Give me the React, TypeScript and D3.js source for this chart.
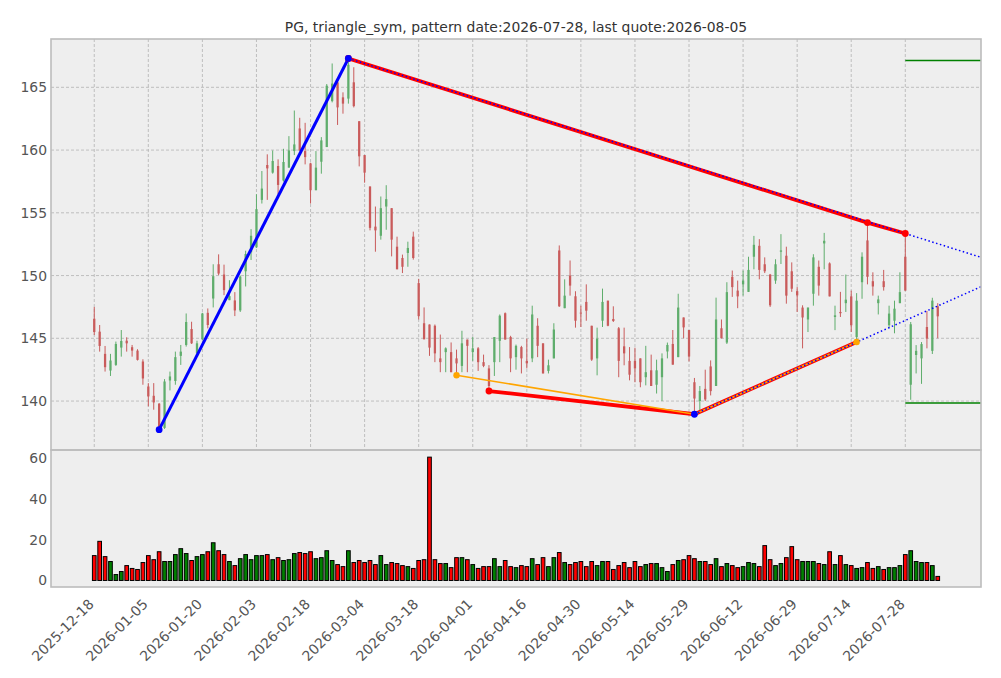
import * as d3 from 'd3';

// OHLC per trading day, index 0 = 2025-12-18 ... index 156 = 2026-08-05
const candles: [number, number, number, number][] = [
  [146.56, 147.5, 145.26, 145.5], [145.53, 146.06, 143.94, 144.39], [143.76, 144.39, 142.35, 142.7],
  [142.43, 143.76, 142.0, 143.23], [142.88, 144.74, 142.8, 144.55], [144.26, 145.66, 143.54, 144.79],
  [144.81, 145.08, 143.94, 144.6], [144.29, 144.47, 143.54, 144.02], [144.02, 144.13, 143.23, 143.28],
  [143.15, 143.33, 141.3, 141.8], [141.16, 141.43, 139.58, 140.37], [140.42, 141.43, 139.31, 139.89],
  [139.79, 139.84, 137.72, 137.86], [137.86, 141.75, 137.78, 141.56], [141.64, 142.35, 140.85, 141.96],
  [141.6, 143.94, 141.3, 143.5], [143.6, 144.47, 142.88, 143.94], [144.47, 146.98, 144.34, 146.3],
  [145.74, 146.32, 144.55, 144.6], [143.81, 144.81, 143.76, 144.6], [144.92, 147.03, 144.87, 146.98],
  [147.03, 147.38, 145.79, 146.06], [148.17, 150.9, 147.46, 149.95], [150.9, 151.69, 150.03, 150.16],
  [150.08, 150.87, 148.44, 148.84], [148.04, 149.63, 148.04, 148.36], [148.02, 148.68, 146.77, 147.22],
  [147.22, 150.0, 147.1, 149.92], [150.34, 151.98, 149.13, 151.72], [151.85, 153.7, 151.24, 153.17],
  [152.25, 156.48, 152.2, 155.29], [156.03, 158.33, 155.74, 156.93], [158.81, 159.66, 156.03, 158.54],
  [158.2, 159.97, 158.12, 159.13], [158.73, 159.26, 156.48, 157.22], [157.57, 160.1, 157.49, 159.05],
  [158.6, 161.11, 158.6, 159.97], [159.92, 163.15, 159.6, 160.45], [161.72, 162.57, 159.92, 159.97],
  [159.92, 162.17, 158.86, 159.44], [158.94, 158.99, 155.74, 156.8], [156.8, 159.92, 156.8, 158.6],
  [159.07, 161.03, 158.12, 160.77], [160.24, 165.26, 160.24, 165.13], [163.9, 166.9, 163.8, 165.3],
  [165.4, 165.5, 162.0, 163.4], [164.2, 164.6, 162.9, 163.7], [164.1, 167.3, 163.7, 166.8],
  [165.4, 166.6, 163.4, 163.5], [162.3, 162.3, 158.7, 159.5], [159.6, 159.6, 157.4, 158.2],
  [157.1, 157.1, 153.6, 153.8], [153.9, 155.5, 151.9, 153.6], [153.17, 156.3, 152.86, 155.37],
  [155.5, 157.2, 153.65, 156.09], [155.37, 155.37, 151.53, 152.86], [152.3, 153.1, 150.5, 150.5],
  [151.4, 151.67, 150.2, 150.7], [151.8, 152.7, 150.7, 152.2], [153.1, 153.5, 151.27, 151.4],
  [149.4, 149.74, 146.5, 146.77], [146.2, 147.46, 144.92, 144.92], [146.1, 146.1, 143.6, 144.26],
  [146.0, 146.1, 143.1, 143.8], [143.4, 145.3, 142.3, 143.1], [143.9, 144.28, 142.3, 144.2],
  [143.9, 144.67, 142.3, 142.3], [143.4, 144.1, 142.06, 143.0], [142.8, 145.6, 142.3, 144.6],
  [144.9, 144.9, 142.3, 144.4], [143.9, 145.1, 143.2, 144.2], [144.2, 144.3, 142.4, 143.1],
  [143.1, 143.7, 142.7, 142.8], [142.6, 142.86, 140.8, 141.2], [143.1, 145.1, 142.0, 145.1],
  [144.8, 146.9, 143.1, 146.8], [147.0, 147.06, 144.9, 144.9], [145.1, 145.2, 142.3, 143.4],
  [143.5, 144.5, 142.5, 144.4], [144.3, 144.4, 142.2, 143.4], [143.2, 144.97, 142.6, 143.0],
  [143.4, 147.6, 143.1, 146.9], [146.0, 146.6, 143.5, 144.4], [144.6, 144.6, 142.2, 142.2],
  [142.4, 143.3, 142.2, 142.85], [143.4, 146.2, 143.4, 145.7], [152.0, 152.4, 147.5, 147.55],
  [147.4, 149.7, 147.4, 148.4], [150.0, 151.2, 148.4, 149.2], [148.35, 148.75, 145.85, 146.4],
  [147.05, 147.6, 145.9, 146.98], [147.9, 149.3, 146.4, 147.2], [146.0, 146.0, 143.2, 143.3],
  [143.4, 145.85, 142.05, 144.97], [146.4, 148.96, 145.9, 147.9], [148.0, 148.0, 145.96, 146.0],
  [146.54, 147.55, 146.3, 146.38], [145.8, 145.9, 141.9, 143.2], [144.36, 145.85, 142.85, 143.8],
  [143.2, 144.3, 141.65, 142.1], [143.2, 144.25, 141.5, 142.6], [143.4, 143.4, 141.1, 141.5],
  [141.9, 144.4, 141.25, 142.3], [142.45, 143.7, 141.2, 141.2], [141.3, 143.3, 140.6, 142.45],
  [141.9, 143.8, 140.0, 143.4], [143.95, 144.66, 143.4, 144.47], [144.55, 145.66, 142.9, 142.9],
  [143.5, 148.55, 143.5, 147.45], [146.66, 146.66, 145.0, 145.87], [145.66, 145.66, 143.16, 143.55],
  [141.5, 141.84, 138.95, 140.2], [140.0, 141.2, 139.2, 140.8], [140.97, 142.5, 140.0, 140.13],
  [142.76, 143.24, 140.45, 140.79], [141.2, 148.24, 141.2, 146.5], [145.8, 146.5, 145.0, 145.0],
  [144.66, 149.47, 144.55, 148.68], [149.9, 150.4, 148.3, 149.08], [148.8, 149.6, 147.4, 148.34],
  [149.3, 150.4, 148.4, 149.6], [148.7, 151.5, 148.7, 150.45], [151.5, 153.16, 150.5, 152.45],
  [152.37, 152.9, 149.7, 150.45], [150.9, 151.45, 150.2, 150.34], [150.08, 150.13, 147.5, 147.63],
  [149.6, 151.3, 149.34, 150.9], [151.9, 153.3, 150.92, 152.0], [151.58, 152.3, 147.76, 148.4],
  [150.34, 151.05, 148.7, 148.95], [148.76, 149.08, 147.1, 148.42], [147.45, 147.63, 144.2, 146.66],
  [146.5, 147.45, 145.5, 147.45], [148.55, 151.7, 147.6, 151.45], [150.7, 151.2, 148.4, 149.2],
  [152.56, 153.4, 150.5, 152.77], [150.97, 151.05, 148.34, 148.34], [146.7, 147.6, 145.65, 146.83],
  [147.1, 148.7, 146.7, 147.0], [147.8, 150.08, 147.1, 148.08], [148.34, 148.8, 145.5, 146.04],
  [145.1, 148.6, 144.7, 148.0], [149.47, 151.85, 148.15, 151.5], [152.8, 154.22, 149.3, 149.9],
  [149.55, 150.26, 148.4, 149.13], [147.8, 148.4, 146.9, 148.1], [149.55, 150.45, 148.8, 149.08],
  [146.04, 147.6, 145.8, 146.97], [146.4, 148.0, 145.4, 147.36], [147.8, 150.26, 147.8, 148.68],
  [151.5, 153.35, 148.8, 148.8], [141.3, 146.3, 140.1, 146.12], [143.67, 144.46, 142.2, 144.0],
  [143.4, 144.7, 141.37, 144.54], [145.9, 147.18, 144.2, 144.98], [144.0, 148.23, 143.75, 148.0],
  [147.55, 147.8, 145.0, 146.75],
];

const volumes = [
  12.2, 19.2, 11.7, 9.3, 2.9, 4.4, 7.3, 5.9, 5.4, 8.8,
  12.2, 10.2, 14.1, 9.3, 9.3, 12.7, 15.6, 13.2, 9.8, 11.7,
  12.7, 14.1, 18.5, 14.6, 12.7, 9.3, 7.3, 10.7, 12.7, 10.2,
  12.2, 12.2, 12.7, 10.2, 11.2, 9.8, 10.2, 13.2, 13.7, 13.2,
  14.1, 10.7, 11.2, 14.6, 9.8, 7.8, 6.8, 14.6, 8.8, 9.8,
  8.8, 9.8, 7.8, 12.2, 7.8, 8.8, 8.3, 7.3, 6.8, 5.9,
  9.8, 10.2, 60.5, 10.2, 8.3, 8.3, 6.3, 11.2, 11.2, 10.2,
  7.8, 5.9, 6.8, 6.8, 10.7, 6.8, 9.8, 6.8, 6.3, 7.3,
  6.8, 10.7, 7.8, 11.2, 6.8, 11.2, 13.7, 8.8, 7.8, 8.8,
  9.3, 6.8, 9.3, 7.3, 9.3, 9.3, 5.4, 7.3, 8.8, 6.3,
  9.3, 6.8, 7.8, 8.3, 8.3, 6.3, 4.4, 7.8, 9.8, 10.2,
  12.2, 10.7, 9.3, 9.3, 7.8, 10.7, 6.8, 8.3, 7.3, 6.3,
  6.8, 8.8, 8.3, 6.8, 17.1, 10.2, 7.3, 8.3, 11.2, 16.6,
  10.2, 9.3, 9.3, 9.3, 8.3, 7.8, 14.1, 7.8, 12.2, 7.8,
  7.3, 5.9, 6.3, 8.8, 5.9, 6.8, 5.4, 6.3, 6.3, 7.3,
  12.7, 14.6, 9.3, 8.8, 8.8, 7.3, 2.0,
];

// volume bar colours (g = up, r = down)
const volColors =
  'rrrgggrrrr' + 'rrrgggggrg' + 'grgrrgrggg' + 'ggrgrgggrr' + 'rggggrrgrr' +
  'rrrggrrrgr' + 'rrrrrgrrgr' + 'grrrggrrgr' + 'rgrrggrgrr' + 'rrrggrrrrr' +
  'rrgrgggrgr' + 'rrgrrgrgrr' + 'gggrrrggrr' + 'rgggrgrgrg' + 'rggrrgrggg' + 'rgggrgr';

const tickIdx = [0, 10, 20, 30, 40, 50, 60, 70, 80, 90, 100, 110, 120, 130, 140, 150];
const tickLabels = [
  '2025-12-18', '2026-01-05', '2026-01-20', '2026-02-03', '2026-02-18', '2026-03-04',
  '2026-03-18', '2026-04-01', '2026-04-16', '2026-04-30', '2026-05-14', '2026-05-29',
  '2026-06-12', '2026-06-29', '2026-07-14', '2026-07-28',
];
const priceTicks = [140, 145, 150, 155, 160, 165];
const volTicks = [0, 20, 40, 60];

// pattern pivots [index, price]
const risePts: [number, number][] = [[12, 137.72], [47, 167.3]];
const upperPts: [number, number][] = [[47, 167.3], [143, 154.22], [150, 153.35]];
const lowerPts: [number, number][] = [[73, 140.8], [111, 138.95], [141, 144.7]];
const orangePts: [number, number][] = [[67, 142.06], [111, 138.95], [141, 144.7]];
const upperFit: [number, number][] = [[47, 167.3], [150, 153.35]];
const lowerFit: [number, number][] = [[111, 138.95], [141, 144.7]];
const levels = [167.14, 139.84];
const levelStart = 150;

const title = 'PG, triangle_sym, pattern date:2026-07-28, last quote:2026-08-05';

const W = 1001;
const H = 678;
const L = 51;
const R = 981;
const PT = 39;
const PB = 450;
const VB = 587;
const X_MAX = 164;

const x = d3.scaleLinear().domain([-8, X_MAX]).range([L, R]);
const yP = d3.scaleLinear().domain([136.1, 168.85]).range([PB, PT]);
const yV = d3.scaleLinear().domain([-3.2, 64]).range([VB, PB]);

const UP = '#5fad6c';
const DOWN = '#c95b5b';
const FONT = 'DejaVu Sans, sans-serif';
const FS = 13.9;

const line = d3
  .line<[number, number]>()
  .x((d) => x(d[0]))
  .y((d) => yP(d[1]));

// extend a two-point line to the right edge of the axis
function extend(pts: [number, number][]): [number, number][] {
  const [[i0, p0], [i1, p1]] = pts;
  const slope = (p1 - p0) / (i1 - i0);
  return [[i0, p0], [X_MAX, p0 + slope * (X_MAX - i0)]];
}

export default function App() {
  const step = x(1) - x(0);
  const bodyW = step * 0.42;
  const volW = step * 0.68;

  return (
    <svg
      width={W}
      height={H}
      style={{ position: 'absolute', left: 0, top: 0, background: '#fff' }}
      fontFamily={FONT}
    >
      <defs>
        <clipPath id="price-clip">
          <rect x={L} y={PT} width={R - L} height={PB - PT} />
        </clipPath>
      </defs>

      {/* panel backgrounds */}
      <rect x={L} y={PT} width={R - L} height={PB - PT} fill="#eeeeee" />
      <rect x={L} y={PB} width={R - L} height={VB - PB} fill="#eeeeee" />

      {/* grid */}
      <g stroke="#b2b2b2" strokeWidth={0.8} strokeDasharray="3,2">
        {tickIdx.map((t) => (
          <line key={'gx' + t} x1={x(t)} x2={x(t)} y1={PT} y2={PB} />
        ))}
        {priceTicks.map((p) => (
          <line key={'gy' + p} x1={L} x2={R} y1={yP(p)} y2={yP(p)} />
        ))}
      </g>

      {/* candles */}
      <g>
        {candles.map(([o, h, l, c], i) => {
          const col = c >= o ? UP : DOWN;
          const top = yP(Math.max(o, c));
          const bh = Math.max(1, Math.abs(yP(o) - yP(c)));
          return (
            <g key={'c' + i}>
              <line x1={x(i)} x2={x(i)} y1={yP(h)} y2={yP(l)} stroke={col} strokeWidth={1} />
              <rect x={x(i) - bodyW / 2} y={top} width={bodyW} height={bh} fill={col} />
            </g>
          );
        })}
      </g>

      {/* pattern lines */}
      <g clipPath="url(#price-clip)" fill="none">
        <path d={line(risePts) ?? ''} stroke="#0000ff" strokeWidth={3} />
        <path d={line(upperPts) ?? ''} stroke="#ff0000" strokeWidth={3.8} />
        <path d={line(lowerPts) ?? ''} stroke="#ff0000" strokeWidth={3.8} />
        <path d={line(orangePts) ?? ''} stroke="#ffa500" strokeWidth={1.6} />
        <path d={line(extend(upperFit)) ?? ''} stroke="#0000ff" strokeWidth={1.5} strokeDasharray="1.5,2.5" />
        <path d={line(extend(lowerFit)) ?? ''} stroke="#0000ff" strokeWidth={1.5} strokeDasharray="1.5,2.5" />
        {levels.map((lv) => (
          <line key={'lv' + lv} x1={x(levelStart)} x2={R} y1={yP(lv)} y2={yP(lv)} stroke="#008000" strokeWidth={1.5} />
        ))}
        {upperPts.concat(lowerPts.slice(0, 1)).map(([i, p]) => (
          <circle key={'rm' + i} cx={x(i)} cy={yP(p)} r={3.4} fill="#ff0000" />
        ))}
        {[orangePts[0], orangePts[2]].map(([i, p]) => (
          <circle key={'om' + i} cx={x(i)} cy={yP(p)} r={3.2} fill="#ffa500" />
        ))}
        {risePts.concat([lowerPts[1]]).map(([i, p]) => (
          <circle key={'bm' + i} cx={x(i)} cy={yP(p)} r={3.4} fill="#0000ff" />
        ))}
      </g>

      {/* volume */}
      <g stroke="#000" strokeWidth={1}>
        {volumes.map((v, i) => (
          <rect
            key={'v' + i}
            x={x(i) - volW / 2}
            y={yV(v)}
            width={volW}
            height={yV(0) - yV(v)}
            fill={volColors[i] === 'g' ? '#008000' : '#ff0000'}
          />
        ))}
      </g>

      {/* frames */}
      <g fill="none" stroke="#bcbcbc" strokeWidth={1.6}>
        <rect x={L} y={PT} width={R - L} height={PB - PT} />
        <rect x={L} y={PB} width={R - L} height={VB - PB} />
      </g>

      {/* y tick labels */}
      <g fontSize={FS} fill="#555" textAnchor="end">
        {priceTicks.map((p) => (
          <text key={'pt' + p} x={L - 4} y={yP(p)} dominantBaseline="central">
            {p}
          </text>
        ))}
        {volTicks.map((v) => (
          <text key={'vt' + v} x={L - 4} y={yV(v)} dominantBaseline="central">
            {v}
          </text>
        ))}
      </g>

      {/* x tick labels */}
      <g fontSize={FS} fill="#555" textAnchor="end">
        {tickIdx.map((t, k) => (
          <text key={'xt' + t} transform={`translate(${x(t) + 0.5},${VB + 18}) rotate(-45)`}>
            {tickLabels[k]}
          </text>
        ))}
      </g>

      <text x={(L + R) / 2} y={27} textAnchor="middle" dominantBaseline="central" fontSize={FS} fill="#333">
        {title}
      </text>
    </svg>
  );
}
